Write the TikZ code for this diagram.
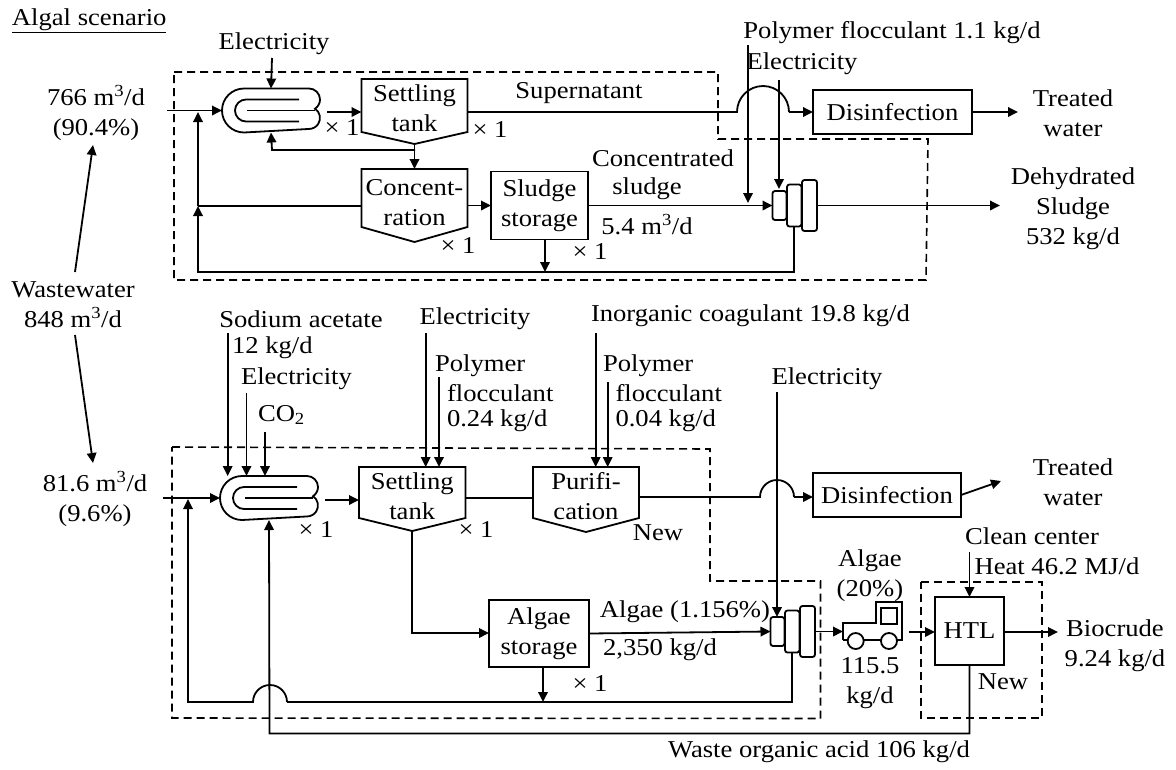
\documentclass[tikz,border=0pt]{standalone}
\usepackage{fontspec}
\setmainfont[FakeStretch=1.1]{Liberation Serif}
\usetikzlibrary{arrows.meta,calc}
\tikzset{
 ln/.style={line width=1.8pt,line join=miter},
 ar/.style={ln,-{Triangle[length=10pt,width=9.5pt]}},
 dsh/.style={line width=1.6pt,dash pattern=on 8pt off 5pt},
 tx/.style={inner sep=0pt,outer sep=0pt,align=center,font=\fontsize{24.2}{30}\selectfont},
 shp/.style={inner sep=0pt,outer sep=0pt,align=center,font=\fontsize{24.2}{30}\selectfont,anchor=center},
 bx/.style={shp,draw,line width=1.8pt},
 pr/.style={inner sep=0pt,outer sep=0pt,draw,line width=1.8pt,rounded corners=2.5pt,anchor=north west}
}
% name, x1, x2, ytop, yside, ytip, text
\newcommand{\pentbox}[7]{%
 \node[shp,minimum width=#3pt-#2pt,minimum height=#6pt-#4pt] (#1) at ({(#2+#3)/2},{-(#4+#6)/2}) {};
 \node[tx] (#1t) at ({(#2+#3)/2},{-(#4+#6)/2+3}) {#7};
 \draw[ln] (#1.north west) -- (#1.north east) -- (#3,-#5) -- (#1.south) -- (#2,-#5) -- cycle;
}
% name, left x, centre y
\newcommand{\reactorbox}[3]{%
 \node[inner sep=0pt,outer sep=0pt,minimum width=98pt,minimum height=44pt] (#1) at (#2+49,-#3) {};
 \draw[ln] (#2+22,-#3+22) -- (#2+87,-#3+22) arc[start angle=90,end angle=-57,radius=11]
   arc[start angle=57,end angle=-90,radius=11] -- (#2+22,-#3-22) arc[start angle=270,end angle=90,radius=22];
 \draw[ln] (#2+77,-#3+11) -- (#2+24,-#3+11) arc[start angle=90,end angle=270,radius=11] -- (#2+77,-#3-11);
 \draw[ln] (#2+25,-#3) -- (#2+93,-#3);
}
% name prefix, x, ycentre
\newcommand{\pressbox}[3]{%
 \node[pr,minimum width=14pt,minimum height=29pt] (#11) at (#2,-#3+14.5) {};
 \node[pr,minimum width=14.5pt,minimum height=42pt] (#12) at (#2+14.5,-#3+21) {};
 \node[pr,minimum width=15pt,minimum height=51pt] (#13) at (#2+29.5,-#3+25.5) {};
}
\begin{document}
\begin{tikzpicture}[x=1pt,y=1pt]
\useasboundingbox (0,0) rectangle (1176,-769);
% ===== dashed frames
\draw[dsh] (174,-72) -- (718,-72) -- (718,-139) -- (928,-139) -- (926,-280) -- (174,-280) -- cycle;
\draw[dsh] (172,-447) -- (710,-449) -- (710,-581) -- (820.5,-581) -- (820.5,-718.5) -- (172,-718) -- cycle;
\draw[dsh] (921,-582) -- (1042,-582) -- (1042,-718) -- (921,-718) -- cycle;
% ===== top train
\reactorbox{reactA}{222}{110.5}
\pentbox{setA}{361.5}{467.5}{79}{132}{144}{Settling\\tank}
\pentbox{conA}{361.5}{467.5}{169}{227}{242}{Concent-\\ration}
\node[bx,minimum width=97pt,minimum height=68pt] (stoA) at (539.5,-205.5) {Sludge\\storage};
\node[bx,minimum width=159pt,minimum height=44pt] (disA) at (892.5,-112) {Disinfection};
\pressbox{presA}{772.5}{205.5}
% ===== bottom train
\reactorbox{reactB}{220}{498}
\pentbox{setB}{359}{465.5}{467}{518}{531}{Settling\\tank}
\pentbox{purB}{533}{639}{467}{518}{532}{Purifi-\\cation}
\node[bx,minimum width=100pt,minimum height=67pt] (stoB) at (539,-633.5) {Algae\\storage};
\node[bx,minimum width=148pt,minimum height=44pt] (disB) at (887,-495) {Disinfection};
\pressbox{presB}{770.5}{631.5}
\node[bx,minimum width=69pt,minimum height=68pt] (htl) at (969.5,-631) {HTL};
% truck
\node[inner sep=0pt,outer sep=0pt,minimum width=59pt,minimum height=47pt] (truck) at (872.5,-625.5) {};
\draw[ln] (843,-639.5) -- (843,-623) -- (876,-623) -- (876,-602) -- (902,-602) -- (902,-640) -- (897,-640);
\draw[ln] (864,-640) -- (881,-640) (843,-640) -- (848,-640);
\draw[ln] (881,-608) rectangle (897,-624);
\draw[ln] (855.7,-641) circle[radius=8];
\draw[ln] (889,-641) circle[radius=8];
% ===== labels
\node[tx,anchor=west] (title) at (12,-21) {\underline{Algal scenario}};
\node[tx] (elA1) at (274,-44) {Electricity};
\node[tx] (polA) at (892,-33) {Polymer flocculant 1.1 kg/d};
\node[tx] (elA2) at (802,-64) {Electricity};
\node[tx] (inA) at (96,-113) {766 m\textsuperscript{3}/d\\(90.4\%)};
\node[tx] (ww) at (73,-305) {Wastewater\\848 m\textsuperscript{3}/d};
\node[tx] (inB) at (95,-499) {81.6 m\textsuperscript{3}/d\\(9.6\%)};
\node[tx] (x1) at (342,-128) {× 1};
\node[tx] (x2) at (490,-130) {× 1};
\node[tx] (x3) at (458,-246) {× 1};
\node[tx] (x4) at (590,-252) {× 1};
\node[tx] (sup) at (579,-93) {Supernatant};
\node[tx,anchor=west] (cs1) at (592,-158) {Concentrated};
\node[tx] (cs2) at (647,-189) {sludge};
\node[tx] (cs3) at (647,-225) {5.4 m\textsuperscript{3}/d};
\node[tx] (twA) at (1073,-113) {Treated\\water};
\node[tx] (dh) at (1073,-208.5) {Dehydrated\\Sludge\\532 kg/d};
\node[tx] (soda) at (301,-319) {Sodium acetate};
\node[tx,anchor=west] (soda2) at (232,-348) {12 kg/d};
\node[tx,anchor=west] (elB1) at (241,-379) {Electricity};
\node[tx,anchor=west] (co2) at (258,-415) {CO\textsubscript{2}};
\node[tx] (elB2) at (475,-319) {Electricity};
\node[tx,anchor=west] (polB1) at (435,-366) {Polymer};
\node[tx,anchor=west] (polB1b) at (447,-393) {flocculant};
\node[tx,anchor=west] (polB1c) at (447,-421) {0.24 kg/d};
\node[tx,anchor=west] (ino) at (591,-316) {Inorganic coagulant 19.8 kg/d};
\node[tx,anchor=west] (polB2) at (603,-366) {Polymer};
\node[tx,anchor=west] (polB2b) at (615.5,-393) {flocculant};
\node[tx,anchor=west] (polB2c) at (615.5,-421) {0.04 kg/d};
\node[tx] (elB3) at (827,-379) {Electricity};
\node[tx] (x5) at (316,-530) {× 1};
\node[tx] (x6) at (476,-530) {× 1};
\node[tx] (x7) at (590,-684) {× 1};
\node[tx] (new1) at (658,-533) {New};
\node[tx] (alg1) at (685,-612) {Algae (1.156\%)};
\node[tx] (alg2) at (660,-650) {2,350 kg/d};
\node[tx] (twB) at (1073,-482) {Treated\\water};
\node[tx] (clean) at (1032,-536) {Clean center};
\node[tx] (heat) at (1057,-566) {Heat 46.2 MJ/d};
\node[tx] (alg3) at (870,-576) {Algae\\(20\%)};
\node[tx] (alg4) at (870,-683) {115.5\\kg/d};
\node[tx] (new2) at (1003,-682) {New};
\node[tx] (bio) at (1115,-646) {Biocrude\\9.24 kg/d};
\node[tx] (waste) at (819,-752) {Waste organic acid 106 kg/d};
% ===== coordinates
\coordinate (inAs) at (167,-110.5);
\coordinate (jA) at (198,-112);
\coordinate (jA2) at (198,-206);
\coordinate (recA) at (198,-272);
\coordinate (stA) at (327,-112);
\coordinate (branch) at (415,-150);
\coordinate (upA) at (272,-150);
\coordinate (supE) at (737,-112);
\coordinate (supF) at (789,-112);
\coordinate (eA1) at (272,-58);
\coordinate (pA) at (748,-45);
\coordinate (pAe) at (748,-203);
\coordinate (eA2) at (779,-80);
\coordinate (eA2e) at (779,-189);
\coordinate (twAe) at (1018,-112);
\coordinate (dhe) at (1000,-205.5);
\coordinate (wu1) at (75,-272);
\coordinate (wu2) at (93,-145);
\coordinate (wd1) at (75,-335);
\coordinate (wd2) at (93,-463);
\coordinate (inBs) at (163,-498);
\coordinate (jB) at (188,-499);
\coordinate (recB) at (188,-702);
\coordinate (hopR) at (287,-702);
\coordinate (wasteL) at (269.5,-733.5);
\coordinate (stB) at (325,-500);
\coordinate (algT) at (412.25,-633);
\coordinate (purE) at (760,-497);
\coordinate (purF) at (794,-497);
\coordinate (twBe) at (1001,-481);
\coordinate (stoAo) at (545,-239.5);
\coordinate (stoBo) at (543,-667);
\coordinate (sA) at (227.7,-333);
\coordinate (sB) at (246.5,-393);
\coordinate (sC) at (265,-432);
\coordinate (sD) at (425.7,-333);
\coordinate (sE) at (439,-377);
\coordinate (sF) at (595.7,-333);
\coordinate (sG) at (607.7,-382);
\coordinate (sH) at (777,-392);
\coordinate (sI) at (969.5,-552);
\coordinate (trS) at (909,-632);
% ===== top connectors
\draw[ar] (inAs) -- (reactA.west);
\draw[ar] (eA1) -- (reactA.north);
\draw[ar] (stA) -- (stA -| setA.west);
\draw[ar] (setA.south) -- (conA.north);
\draw[ar] (branch) -- (upA) -- (reactA.south);
\draw[ar] (conA.east |- stoA.west) -- (stoA.west);
\draw[ln] (conA.west |- jA2) -- (jA2);
\draw[ar] (jA2) -- (jA);
\draw[ar] (presA2.south) -- (presA2.south |- recA) -- (recA) -- (jA2);
\draw[ar] (stoAo) -- (stoAo |- recA);
\draw[ar] (stoA.east) -- (presA1.west);
\draw[ln] (setA.east |- supE) -- (supE) arc[start angle=180,end angle=0,radius=26] -- (supF);
\draw[ar] (supF) -- (supF -| disA.west);
\draw[ar] (pA) -- (pAe);
\draw[ar] (eA2) -- (eA2e);
\draw[ar] (disA.east) -- (twAe);
\draw[ar] (presA3.east) -- (dhe);
\draw[ar] (wu1) -- (wu2);
\draw[ar] (wd1) -- (wd2);
% ===== bottom connectors
\draw[ar] (inBs) -- (reactB.west);
\draw[ar] (hopR) arc[start angle=0,end angle=180,radius=17] -- (recB) -- (jB);
\draw[ln] (presB2.south) -- (presB2.south |- recB) -- (hopR);
\draw[ar] (htl.south) -- (htl.south |- wasteL) -- (wasteL) -- (reactB.south);
\draw[ar] (stB) -- (stB -| setB.west);
\draw[ln] (setB.east |- reactB.east) -- (purB.west |- reactB.east);
\draw[ln] (purB.east |- purE) -- (purE) arc[start angle=180,end angle=0,radius=17] -- (purF);
\draw[ar] (purF) -- (purF -| disB.west);
\draw[ar] (disB.east) -- (twBe);
\draw[ar] (setB.south) -- (algT) -- (algT -| stoB.west);
\draw[ar] (stoB.east) -- (presB1.west);
\draw[ar] (stoBo) -- (stoBo |- recB);
\draw[ar] (presB3.east) -- (truck.west |- presB3.east);
\draw[ar] (trS) -- (trS -| htl.west);
\draw[ar] (htl.east |- trS) -- (1058,-632);
\draw[ar] (sA) -- (sA |- reactB.north);
\draw[ar] (sB) -- (sB |- reactB.north);
\draw[ar] (sC) -- (sC |- reactB.north);
\draw[ar] (sD) -- (sD |- setB.north);
\draw[ar] (sE) -- (sE |- setB.north);
\draw[ar] (sF) -- (sF |- purB.north);
\draw[ar] (sG) -- (sG |- purB.north);
\draw[ar] (sH) -- (sH |- presB1.north);
\draw[ar] (sI) -- (htl.north);
\end{tikzpicture}
\end{document}
